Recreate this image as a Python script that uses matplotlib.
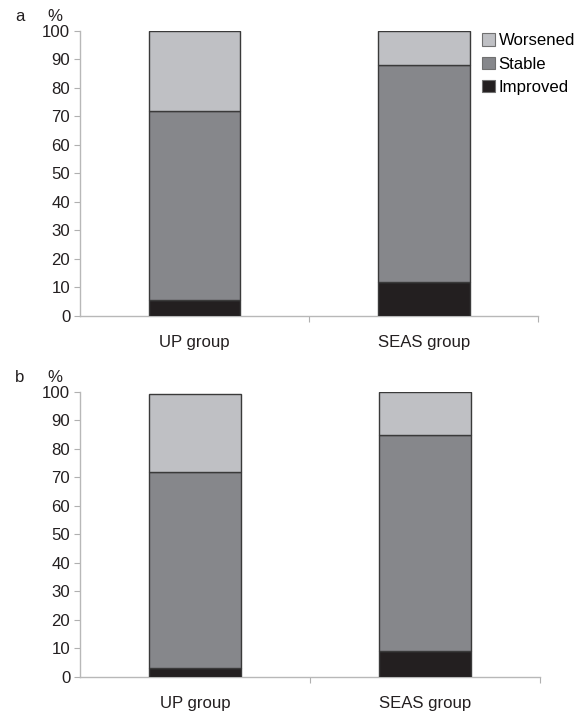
import matplotlib.pyplot as plt
import numpy as np

plt.rcParams['font.family'] = ['Liberation Sans', 'DejaVu Sans']

# Dữ liệu
groups = ["UP group", "SEAS group"]
series_names = ["Improved", "Stable", "Worsened"]
colors = ["#231f20", "#86878b", "#bfc0c4"]

# panel a
improved_a = [5.5, 12]
stable_a = [66.5, 76]
worsened_a = [28, 12]

# panel b
improved_b = [3.2, 9.2]
stable_b = [68.8, 75.8]
worsened_b = [27.2, 15]

yticks = np.arange(0, 101, 10)
fs = 12.1

fig = plt.figure(figsize=(5.8, 7.12), dpi=100)
ax_a = fig.add_axes([0.138, 0.5562, 0.790, 0.4003])
ax_b = fig.add_axes([0.138, 0.0492, 0.793, 0.4003])


def draw_panel(ax, data, letter):
    x = np.arange(len(groups))
    bottom = np.zeros(len(groups))
    for vals, name, c in zip(data, series_names, colors):
        ax.bar(x, vals, width=0.4, bottom=bottom, color=c, edgecolor="#3a3a3a",
               linewidth=1, label=name, zorder=3)
        bottom += np.array(vals)

    ax.set_xlim(-0.5, 1.5)
    ax.set_ylim(0, 100)
    ax.set_yticks(yticks)
    ax.tick_params(axis='y', labelsize=fs, length=4, width=0.8, color="#b0b0b0",
                   labelcolor="#231f20", pad=3)

    # vạch phân chia nhóm kiểu Excel
    ax.set_xticks([0.5, 1.5])
    ax.set_xticklabels(["", ""])
    ax.tick_params(axis='x', which='major', length=4, width=0.8, color="#b0b0b0")
    ax.set_xticks(x, minor=True)
    ax.set_xticklabels(groups, minor=True, fontsize=fs, color="#231f20")
    ax.tick_params(axis='x', which='minor', length=0, pad=14)

    for s in ["top", "right"]:
        ax.spines[s].set_visible(False)
    for s in ["left", "bottom"]:
        ax.spines[s].set_color("#b8b8b8")
        ax.spines[s].set_linewidth(1)

    pos = ax.get_position()
    fig.text(0.026, pos.y1 + 0.02, letter, fontsize=fs, color="#231f20", va="center")
    fig.text(0.082, pos.y1 + 0.02, "%", fontsize=fs, color="#231f20", va="center")


draw_panel(ax_a, [improved_a, stable_a, worsened_a], "a")
draw_panel(ax_b, [improved_b, stable_b, worsened_b], "b")

handles, labels = ax_a.get_legend_handles_labels()
leg = fig.legend(handles[::-1], labels[::-1], loc="upper left",
                 bbox_to_anchor=(0.831, 0.953), frameon=False, fontsize=fs,
                 handlelength=0.75, handleheight=0.75, handletextpad=0.25,
                 labelspacing=0.48, borderpad=0, borderaxespad=0)
for h in leg.legend_handles:
    h.set_edgecolor("#707070")
    h.set_linewidth(0.8)

fig.savefig("out.png", dpi=100)
